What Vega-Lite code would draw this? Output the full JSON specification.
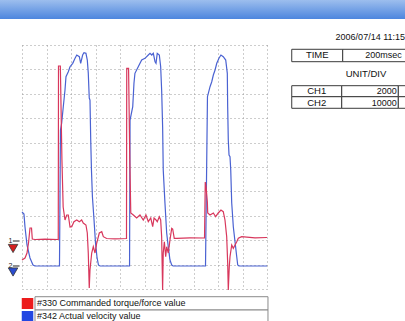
{
 "$schema": "https://vega.github.io/schema/vega-lite/v6.json",
 "width": 245,
 "height": 244,
 "autosize": {"type": "none"},
 "padding": {"left": 22, "top": 45, "right": 138, "bottom": 32},
 "background": "#ffffff",
 "config": {
  "view": {"stroke": null},
  "font": "Liberation Sans",
  "axisX": {"values": [0,200,400,600,800,1000,1200,1400,1600,1800,2000], "grid": true, "gridColor": "#9a9a9a", "gridDash": [1, 3], "gridWidth": 1, "labels": false, "ticks": false, "domain": false, "title": null}
 },
 "resolve": {"scale": {"y": "independent"}},
 "datasets": {
  "velocity": [
   {"t":0,"v":21555},{"t":16,"v":20736},{"t":24.5,"v":15408},{"t":40.8,"v":8032},{"t":65.3,"v":2705},{"t":89.8,"v":-164},{"t":106,"v":-574},{"t":306,"v":-574},
   {"t":314,"v":55159},{"t":324,"v":58028},{"t":337,"v":64707},{"t":351,"v":71551},{"t":359,"v":77001},{"t":378,"v":79050},{"t":392,"v":81099},{"t":414,"v":82493},{"t":433,"v":84542},{"t":447,"v":85894},{"t":468,"v":85198},{"t":479,"v":82493},{"t":495,"v":85894},{"t":506,"v":86837},{"t":522,"v":86591},{"t":533,"v":83845},{"t":541,"v":78518},{"t":549,"v":68273},{"t":555,"v":67453},{"t":561,"v":51062},{"t":567,"v":38767},{"t":575,"v":27703},{"t":588,"v":18278},{"t":600,"v":8852},{"t":612,"v":3114},{"t":624,"v":-164},{"t":637,"v":-574},{"t":878,"v":-574},
   {"t":882,"v":59257},{"t":904,"v":64707},{"t":914,"v":74297},{"t":922,"v":78395},{"t":949,"v":81099},{"t":977,"v":83845},{"t":1004,"v":84542},{"t":1031,"v":85894},{"t":1045,"v":86591},{"t":1059,"v":85894},{"t":1072,"v":86591},{"t":1086,"v":83149},{"t":1094,"v":82493},{"t":1104,"v":86591},{"t":1121,"v":85894},{"t":1132,"v":81099},{"t":1140,"v":71551},{"t":1148,"v":56511},{"t":1153,"v":38767},{"t":1167,"v":25244},{"t":1181,"v":12950},{"t":1194,"v":7335},{"t":1208,"v":1885},{"t":1222,"v":-164},{"t":1233,"v":-574},{"t":1498,"v":-574},
   {"t":1514,"v":68806},{"t":1535,"v":72904},{"t":1549,"v":74953},{"t":1562,"v":77698},{"t":1576,"v":79747},{"t":1590,"v":82493},{"t":1608,"v":84542},{"t":1624,"v":85894},{"t":1643,"v":85198},{"t":1663,"v":83845},{"t":1676,"v":78395},{"t":1679,"v":64707},{"t":1684,"v":51062},{"t":1690,"v":44914},{"t":1698,"v":44217},{"t":1704,"v":38767},{"t":1712,"v":25244},{"t":1725,"v":15532},{"t":1739,"v":9384},{"t":1753,"v":3237},{"t":1761,"v":-164},{"t":1771,"v":-574},{"t":2000,"v":-574}
  ],
  "torque": [
   {"t":0,"v":-1623},{"t":24.5,"v":-1459},{"t":40.8,"v":-1049},{"t":53.1,"v":-230},{"t":65.3,"v":1000},{"t":77.6,"v":1000},{"t":84.1,"v":98},{"t":106,"v":57},{"t":188,"v":82},{"t":296,"v":57},
   {"t":298,"v":14279},{"t":313,"v":14279},{"t":326,"v":6574},{"t":336,"v":2721},{"t":351,"v":1656},{"t":365,"v":2066},{"t":378,"v":2066},{"t":392,"v":1082},{"t":406,"v":1107},{"t":424,"v":1516},{"t":447,"v":1656},{"t":468,"v":1516},{"t":487,"v":1656},{"t":500,"v":1410},{"t":522,"v":1246},{"t":533,"v":590},{"t":541,"v":-1049},{"t":549,"v":-3918},{"t":555,"v":-2443},{"t":569,"v":-1049},{"t":582,"v":-533},{"t":596,"v":-1049},{"t":610,"v":-230},{"t":631,"v":590},{"t":651,"v":697},{"t":664,"v":287},{"t":691,"v":139},{"t":759,"v":115},{"t":853,"v":139},
   {"t":855,"v":14091},{"t":870,"v":14091},{"t":880,"v":6574},{"t":888,"v":2230},{"t":909,"v":2066},{"t":936,"v":1820},{"t":963,"v":2066},{"t":990,"v":1656},{"t":1012,"v":2066},{"t":1031,"v":1516},{"t":1051,"v":1820},{"t":1067,"v":1107},{"t":1078,"v":1820},{"t":1094,"v":1656},{"t":1104,"v":1516},{"t":1121,"v":1926},{"t":1132,"v":1656},{"t":1140,"v":287},{"t":1148,"v":-4082},{"t":1153,"v":-1049},{"t":1162,"v":-123},{"t":1173,"v":-1353},{"t":1181,"v":-533},{"t":1194,"v":-1049},{"t":1208,"v":16},{"t":1222,"v":975},{"t":1230,"v":918},{"t":1243,"v":156},{"t":1263,"v":156},{"t":1371,"v":197},{"t":1490,"v":180},
   {"t":1496,"v":4771},{"t":1502,"v":4443},{"t":1513,"v":3156},{"t":1516,"v":2230},{"t":1535,"v":2066},{"t":1562,"v":2230},{"t":1581,"v":1926},{"t":1602,"v":2230},{"t":1624,"v":2476},{"t":1643,"v":2336},{"t":1657,"v":1656},{"t":1671,"v":287},{"t":1679,"v":-1869},{"t":1684,"v":-4082},{"t":1692,"v":-2172},{"t":1698,"v":-1353},{"t":1712,"v":-393},{"t":1725,"v":-664},{"t":1739,"v":-393},{"t":1753,"v":-123},{"t":1766,"v":156},{"t":1793,"v":287},{"t":1902,"v":197},{"t":2000,"v":221}
  ],
  "titlebar": [{"x":-200,"x2":3200,"y":12.5,"y2":11.07}],
  "cells": [
   {"x":2202,"x2":2618,"y":9.824,"y2":9.316},
   {"x":2618,"x2":3200,"y":9.824,"y2":9.316},
   {"x":2202,"x2":2610,"y":8.332,"y2":7.881},
   {"x":2610,"x2":3072,"y":8.332,"y2":7.881},
   {"x":3072,"x2":3200,"y":8.332,"y2":7.881},
   {"x":2202,"x2":2610,"y":7.881,"y2":7.406},
   {"x":2610,"x2":3072,"y":7.881,"y2":7.406},
   {"x":3072,"x2":3200,"y":7.881,"y2":7.406}
  ],
  "legendrows": [
   {"x":106,"x2":2008,"y":-0.316,"y2":-0.861},
   {"x":106,"x2":2008,"y":-0.861,"y2":-1.7}
  ],
  "swatches": [
   {"x":-2,"x2":92,"y":-0.369,"y2":-0.82,"ch":"CH1"},
   {"x":-2,"x2":92,"y":-0.902,"y2":-1.4,"ch":"CH2"}
  ],
  "centertext": [
   {"x":2410,"y":9.57,"label":"TIME"},
   {"x":2808,"y":8.81,"label":"UNIT/DIV"},
   {"x":2406,"y":8.107,"label":"CH1"},
   {"x":2406,"y":7.643,"label":"CH2"}
  ],
  "righttext": [
   {"x":3100,"y":9.57,"label":"200msec"},
   {"x":3059,"y":8.107,"label":"2000"},
   {"x":3059,"y":7.643,"label":"10000"}
  ],
  "datetext": [{"x":2560,"y":10.33,"label":"2006/07/14 11:15"}],
  "legendtext": [
   {"x":122,"y":-0.594,"label":"#330 Commanded torque/force value"},
   {"x":122,"y":-1.127,"label":"#342 Actual velocity value"}
  ],
  "markers": [
   {"x":-73,"y":1.66,"ch":"CH1"},
   {"x":-73,"y":0.697,"ch":"CH2"}
  ],
  "markerlabels": [
   {"x":-94,"y":1.967,"label":"1"},
   {"x":-94,"y":0.943,"label":"2"}
  ],
  "markerlines": [
   {"x":-75,"x2":-20,"y":1.967},
   {"x":-75,"x2":-20,"y":0.943}
  ]
 },
 "layer": [
  {
   "data": {"name": "titlebar"},
   "mark": {"type": "rect", "clip": false, "color": {"gradient": "linear", "x1": 0, "y1": 0, "x2": 0, "y2": 1, "stops": [{"offset": 0, "color": "#d4e2f6"}, {"offset": 0.45, "color": "#9ebfee"}, {"offset": 1, "color": "#4d86de"}]}},
   "encoding": {
    "x": {"field": "x", "type": "quantitative", "scale": {"domain": [0, 2000]}},
    "x2": {"field": "x2"},
    "y": {"field": "y", "type": "quantitative", "scale": {"domain": [0, 10]}, "axis": {"values": [0,1,2,3,4,5,6,7,8,9,10], "grid": true, "gridColor": "#9a9a9a", "gridDash": [1, 3], "gridWidth": 1, "labels": false, "ticks": false, "domain": false, "title": null}},
    "y2": {"field": "y2"}
   }
  },
  {
   "data": {"name": "cells"},
   "mark": {"type": "rect", "clip": false, "fill": "#ffffff", "stroke": "#3a3a3a", "strokeWidth": 1},
   "encoding": {
    "x": {"field": "x", "type": "quantitative", "scale": {"domain": [0, 2000]}},
    "x2": {"field": "x2"},
    "y": {"field": "y", "type": "quantitative", "scale": {"domain": [0, 10]}, "axis": null},
    "y2": {"field": "y2"}
   }
  },
  {
   "data": {"name": "legendrows"},
   "mark": {"type": "rect", "clip": false, "fill": "#ffffff", "stroke": "#8a8a8a", "strokeWidth": 1},
   "encoding": {
    "x": {"field": "x", "type": "quantitative", "scale": {"domain": [0, 2000]}},
    "x2": {"field": "x2"},
    "y": {"field": "y", "type": "quantitative", "scale": {"domain": [0, 10]}, "axis": null},
    "y2": {"field": "y2"}
   }
  },
  {
   "data": {"name": "swatches"},
   "mark": {"type": "rect", "clip": false},
   "encoding": {
    "x": {"field": "x", "type": "quantitative", "scale": {"domain": [0, 2000]}},
    "x2": {"field": "x2"},
    "y": {"field": "y", "type": "quantitative", "scale": {"domain": [0, 10]}, "axis": null},
    "y2": {"field": "y2"},
    "color": {"field": "ch", "type": "nominal", "scale": {"domain": ["CH1", "CH2"], "range": ["#ec1c1c", "#2347e2"]}, "legend": null}
   }
  },
  {
   "data": {"name": "centertext"},
   "mark": {"type": "text", "clip": false, "align": "center", "baseline": "middle", "fontSize": 9.5, "color": "#111111"},
   "encoding": {
    "x": {"field": "x", "type": "quantitative", "scale": {"domain": [0, 2000]}},
    "y": {"field": "y", "type": "quantitative", "scale": {"domain": [0, 10]}, "axis": null},
    "text": {"field": "label"}
   }
  },
  {
   "data": {"name": "righttext"},
   "mark": {"type": "text", "clip": false, "align": "right", "baseline": "middle", "fontSize": 9, "color": "#111111"},
   "encoding": {
    "x": {"field": "x", "type": "quantitative", "scale": {"domain": [0, 2000]}},
    "y": {"field": "y", "type": "quantitative", "scale": {"domain": [0, 10]}, "axis": null},
    "text": {"field": "label"}
   }
  },
  {
   "data": {"name": "datetext"},
   "mark": {"type": "text", "clip": false, "align": "left", "baseline": "middle", "fontSize": 9, "color": "#111111"},
   "encoding": {
    "x": {"field": "x", "type": "quantitative", "scale": {"domain": [0, 2000]}},
    "y": {"field": "y", "type": "quantitative", "scale": {"domain": [0, 10]}, "axis": null},
    "text": {"field": "label"}
   }
  },
  {
   "data": {"name": "legendtext"},
   "mark": {"type": "text", "clip": false, "align": "left", "baseline": "middle", "fontSize": 9, "color": "#111111"},
   "encoding": {
    "x": {"field": "x", "type": "quantitative", "scale": {"domain": [0, 2000]}},
    "y": {"field": "y", "type": "quantitative", "scale": {"domain": [0, 10]}, "axis": null},
    "text": {"field": "label"}
   }
  },
  {
   "data": {"name": "markerlines"},
   "mark": {"type": "rule", "clip": false, "color": "#222222", "strokeWidth": 1},
   "encoding": {
    "x": {"field": "x", "type": "quantitative", "scale": {"domain": [0, 2000]}},
    "x2": {"field": "x2"},
    "y": {"field": "y", "type": "quantitative", "scale": {"domain": [0, 10]}, "axis": null}
   }
  },
  {
   "data": {"name": "markerlabels"},
   "mark": {"type": "text", "clip": false, "align": "center", "baseline": "middle", "fontSize": 7, "color": "#222222"},
   "encoding": {
    "x": {"field": "x", "type": "quantitative", "scale": {"domain": [0, 2000]}},
    "y": {"field": "y", "type": "quantitative", "scale": {"domain": [0, 10]}, "axis": null},
    "text": {"field": "label"}
   }
  },
  {
   "data": {"name": "markers"},
   "mark": {"type": "point", "clip": false, "shape": "triangle-down", "filled": true, "size": 90, "stroke": "#333333", "strokeWidth": 0.8, "opacity": 1},
   "encoding": {
    "x": {"field": "x", "type": "quantitative", "scale": {"domain": [0, 2000]}},
    "y": {"field": "y", "type": "quantitative", "scale": {"domain": [0, 10]}, "axis": null},
    "fill": {"field": "ch", "type": "nominal", "scale": {"domain": ["CH1", "CH2"], "range": ["#d42020", "#2a4ccf"]}, "legend": null}
   }
  },
  {
   "data": {"name": "velocity"},
   "mark": {"type": "line", "clip": false, "color": "#4a62d2", "strokeWidth": 1.2},
   "encoding": {
    "x": {"field": "t", "type": "quantitative", "scale": {"domain": [0, 2000]}},
    "y": {"field": "v", "type": "quantitative", "scale": {"domain": [-10000, 90000]}, "axis": null}
   }
  },
  {
   "data": {"name": "torque"},
   "mark": {"type": "line", "clip": false, "color": "#d8375c", "strokeWidth": 1.2},
   "encoding": {
    "x": {"field": "t", "type": "quantitative", "scale": {"domain": [0, 2000]}},
    "y": {"field": "v", "type": "quantitative", "scale": {"domain": [-4000, 16000]}, "axis": null}
   }
  }
 ]
}
